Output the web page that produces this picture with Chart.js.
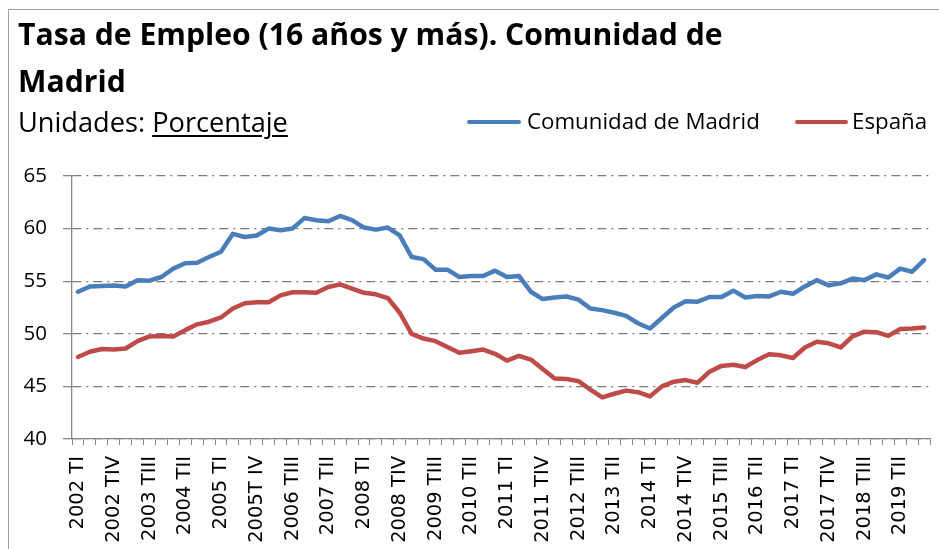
<!DOCTYPE html>
<html>
<head>
<meta charset="utf-8">
<script src="https://cdn.jsdelivr.net/npm/chart.js@4/dist/chart.umd.min.js"></script>
<style>
html,body{margin:0;padding:0;background:#fff;}
#wrap{position:relative;width:939px;height:549px;overflow:hidden;background:#fff;}
#frame{position:absolute;left:8px;top:9px;width:1200px;height:1200px;border:1px solid #a0a0a0;}
.t{position:absolute;white-space:nowrap;line-height:1;margin:0;color:#000;font-family:"Open Sans",sans-serif;}
.b{display:inline-block;width:0;height:0;vertical-align:baseline;}
#t1,#t2{font-weight:bold;}
#sub u{text-decoration-thickness:1.5px;text-underline-offset:3px;}
.lg{position:absolute;height:4px;border-radius:2px;}
#chart{position:absolute;left:0;top:0;}
</style>
</head>
<body>
<div id="wrap">
  <div id="frame"></div>
  <canvas id="chart" width="939" height="549"></canvas>
  <div class="t" id="t1">Tasa de Empleo (16 años y más). Comunidad de<span class="b"></span></div>
  <div class="t" id="t2">Madrid<span class="b"></span></div>
  <div class="t" id="sub">Unidades: <u>Porcentaje</u><span class="b"></span></div>
  <div class="lg" id="lg1"></div>
  <div class="t" id="lt1">Comunidad de Madrid<span class="b"></span></div>
  <div class="lg" id="lg2"></div>
  <div class="t" id="lt2">España<span class="b"></span></div>
</div>
<script>
// ---- Data ----
const categories = [
  "2002 TI","2002 TII","2002 TIII","2002 TIV",
  "2003 TI","2003 TII","2003 TIII","2003 TIV",
  "2004 TI","2004 TII","2004 TIII","2004 TIV",
  "2005 TI","2005 TII","2005 TIII","2005T IV",
  "2006 TI","2006 TII","2006 TIII","2006 TIV",
  "2007 TI","2007 TII","2007 TIII","2007 TIV",
  "2008 TI","2008 TII","2008 TIII","2008 TIV",
  "2009 TI","2009 TII","2009 TIII","2009 TIV",
  "2010 TI","2010 TII","2010 TIII","2010 TIV",
  "2011 TI","2011 TII","2011 TIII","2011 TIV",
  "2012 TI","2012 TII","2012 TIII","2012 TIV",
  "2013 TI","2013 TII","2013 TIII","2013 TIV",
  "2014 TI","2014 TII","2014 TIII","2014 TIV",
  "2015 TI","2015 TII","2015 TIII","2015 TIV",
  "2016 TI","2016 TII","2016 TIII","2016 TIV",
  "2017 TI","2017 TII","2017 TIII","2017 TIV",
  "2018 TI","2018 TII","2018 TIII","2018 TIV",
  "2019 TI","2019 TII","2019 TIII","2019 TIV"
];
const madrid = [
  54.0, 54.5, 54.55, 54.6, 54.5, 55.1, 55.05, 55.4,
  56.2, 56.7, 56.75, 57.3, 57.8, 59.5, 59.2, 59.35,
  60.0, 59.85, 60.0, 61.0, 60.8, 60.7, 61.2, 60.8,
  60.1, 59.9, 60.1, 59.35, 57.3, 57.1, 56.1, 56.1,
  55.4, 55.5, 55.5, 56.0, 55.4, 55.5, 54.0, 53.3,
  53.45, 53.55, 53.25, 52.4, 52.25, 52.0, 51.7, 51.0,
  50.5, 51.5, 52.5, 53.1, 53.05, 53.5, 53.5, 54.1,
  53.45, 53.6, 53.55, 54.0, 53.8, 54.5, 55.1, 54.6,
  54.8, 55.25, 55.1, 55.65, 55.35, 56.2, 55.9, 57.0
];
const espana = [
  47.8, 48.3, 48.55, 48.5, 48.6, 49.3, 49.75, 49.8,
  49.75, 50.35, 50.9, 51.15, 51.55, 52.4, 52.9, 53.0,
  53.0, 53.65, 53.95, 53.95, 53.9, 54.45, 54.7, 54.3,
  53.9, 53.75, 53.4, 52.0, 50.0, 49.55, 49.3, 48.75,
  48.2, 48.35, 48.5, 48.1, 47.45, 47.9, 47.55, 46.65,
  45.75, 45.7, 45.5, 44.7, 43.95, 44.3, 44.6, 44.45,
  44.05, 45.0, 45.45, 45.6, 45.35, 46.4, 46.95, 47.05,
  46.85, 47.5, 48.05, 47.95, 47.7, 48.7, 49.25, 49.1,
  48.7, 49.75, 50.2, 50.15, 49.8, 50.45, 50.5, 50.6
];
const yMin = 40, yMax = 65, yStep = 5;
const labelEvery = 3;

const BLUE = "#4A7EBB", RED = "#BE4B48", AXIS = "#868686";

// ---- Text layout helpers ----
function fitWidth(el, w) {
  el.style.fontSize = "20px";
  const cur = el.getBoundingClientRect().width;
  el.style.fontSize = (20 * w / cur) + "px";
}
function place(el, x, baseline) {
  el.style.left = x + "px";
  el.style.top = "0px";
  const b = el.querySelector(".b").getBoundingClientRect().top - el.getBoundingClientRect().top;
  el.style.top = (baseline - b) + "px";
}
const t1 = document.getElementById("t1"), t2 = document.getElementById("t2");
fitWidth(t1, 705); t2.style.fontSize = t1.style.fontSize;
place(t1, 18, 45); place(t2, 18, 92);
const sub = document.getElementById("sub");
fitWidth(sub, 270); place(sub, 18, 132);
const lt1 = document.getElementById("lt1"), lt2 = document.getElementById("lt2");
fitWidth(lt1, 233); lt2.style.fontSize = lt1.style.fontSize;
place(lt1, 527, 129); place(lt2, 852, 129);
const lg1 = document.getElementById("lg1"), lg2 = document.getElementById("lg2");
lg1.style.cssText += `left:467px;top:120px;width:54px;background:${BLUE};`;
lg2.style.cssText += `left:795px;top:120px;width:53px;background:${RED};`;

// ---- Chart ----
new Chart(document.getElementById("chart"), {
  type: "line",
  data: {
    labels: categories,
    datasets: [
      { label: "Comunidad de Madrid", data: madrid, borderColor: BLUE, backgroundColor: BLUE,
        borderWidth: 4.5, pointRadius: 0, tension: 0, borderJoinStyle: "round", borderCapStyle: "round" },
      { label: "España", data: espana, borderColor: RED, backgroundColor: RED,
        borderWidth: 4.5, pointRadius: 0, tension: 0, borderJoinStyle: "round", borderCapStyle: "round" }
    ]
  },
  options: {
    responsive: false,
    animation: false,
    events: [],
    layout: { padding: { left: 9, right: 9, top: 176, bottom: 0 } },
    plugins: { legend: { display: false }, tooltip: { enabled: false }, title: { display: false } },
    scales: {
      x: {
        offset: true,
        grid: { display: true, offset: true, drawOnChartArea: false, drawTicks: true, tickLength: 6,
                color: AXIS, tickColor: AXIS, lineWidth: 1, tickWidth: 1, tickBorderDash: [] },
        border: { display: true, color: AXIS, width: 1.3 },
        ticks: {
          autoSkip: false, minRotation: 90, maxRotation: 90, padding: 11,
          color: "#000", font: { family: "DejaVu Sans", size: 19.5 },
          callback: function (v, i) { return i % labelEvery === 0 ? this.getLabelForValue(v) : ""; }
        },
        afterFit: (s) => { s.height = 110; s.paddingRight = 0; s.paddingLeft = 0; }
      },
      y: {
        min: yMin, max: yMax,
        grid: { color: "#7a7a7a", lineWidth: 1.3, drawTicks: true, tickLength: 9, tickColor: AXIS, tickWidth: 1.3, tickBorderDash: [] },
        border: { display: true, color: AXIS, width: 1.3, dash: [9, 5, 2, 5] },
        ticks: { stepSize: yStep, padding: 16, color: "#000", font: { family: "Open Sans", size: 20.5 } },
        afterFit: (s) => { s.width = 63; s.paddingTop = 0; s.paddingBottom = 0; }
      }
    }
  }
});
</script>
</body>
</html>
